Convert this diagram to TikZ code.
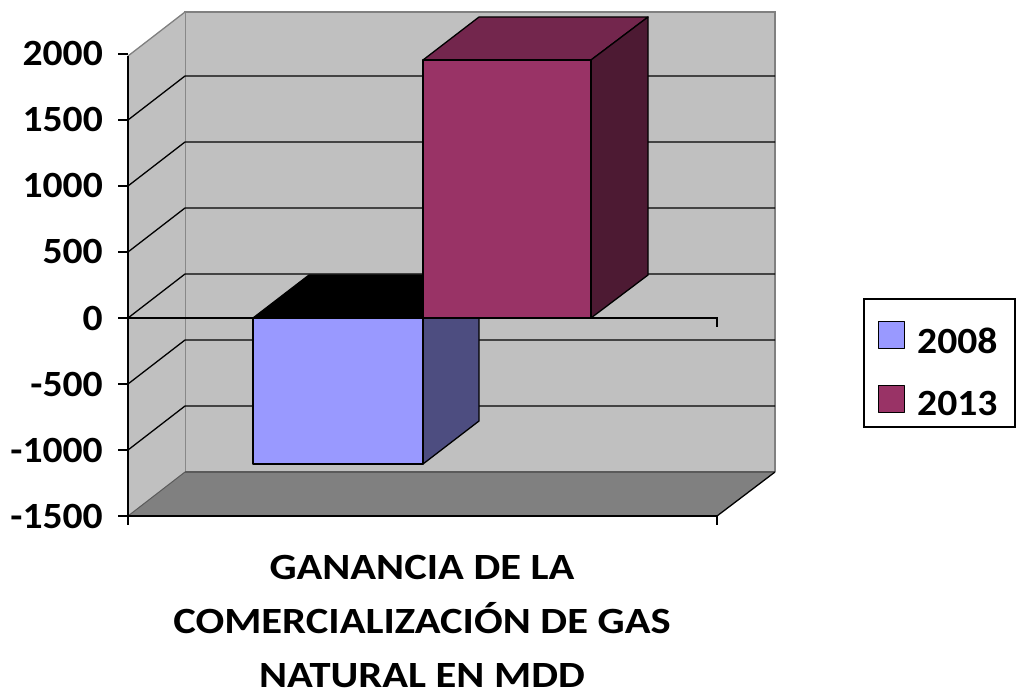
\documentclass[tikz,border=0pt]{standalone}
\usepackage{fontspec}
\usepackage{graphicx}
\setmainfont{Carlito}
\definecolor{wallc}{HTML}{C0C0C0}
\definecolor{floorc}{HTML}{808080}
\definecolor{edgec}{HTML}{808080}
\definecolor{baraf}{HTML}{9999FF}
\definecolor{baras}{HTML}{4D4D80}
\definecolor{barbf}{HTML}{993366}
\definecolor{barbt}{HTML}{73264D}
\definecolor{barbs}{HTML}{4D1A33}
\newcommand{\numtxt}[1]{\scalebox{1.07}[1]{#1}}
\newcommand{\ttltxt}[1]{\scalebox{1.15}[1]{#1}}
\tikzset{
  grid/.style={black, line width=1.3pt},
  axisl/.style={black, line width=1.3pt},
  face/.style={draw=black, line width=1.3pt, line join=round},
  lab/.style={font=\fontsize{37}{44}\bfseries\selectfont, inner sep=0pt, anchor=base east},
  legl/.style={font=\fontsize{37}{44}\bfseries\selectfont, inner sep=0pt, anchor=base west},
  ttl/.style={font=\fontsize{37}{44}\bfseries\selectfont, inner sep=0pt, anchor=base, text depth=0pt},
}
\begin{document}
\begin{tikzpicture}[x=1pt,y=-1pt]
\useasboundingbox (0,0) rectangle (1016,695);
% back wall
\fill[wallc] (185,12) rectangle (775,472);
\draw[edgec, line width=1.3pt] (185,472) -- (185,12) -- (775,12) -- (775,472);
% side wall
\fill[wallc] (128,56) -- (185,12) -- (185,472) -- (128,516) -- cycle;
\draw[edgec, line width=1.3pt] (128,56) -- (185,12);
% floor
\fill[floorc] (128,516) -- (717,516) -- (775,472) -- (185,472) -- cycle;
\draw[edgec!70!black, line width=1.3pt] (185,472) -- (775,472);
\draw[edgec!70!black, line width=1pt] (128,516) -- (185,472);
\draw[grid] (717,516) -- (775,472);
% gridlines
\foreach \v in {1500,1000,500,0,-500,-1000}{
  \pgfmathsetmacro{\yf}{318-0.132*\v}
  \pgfmathsetmacro{\yb}{\yf-44}
  \draw[grid] (128,\yf) -- (185,\yb) -- (775,\yb);
}
% category axis at zero
\coordinate (z0) at (128,318);
\coordinate (z1) at (717,318);
\coordinate (z2) at (717,327);
\draw[axisl] (z0) -- (z1) -- (z2);
% floor front edge
\coordinate (f0) at (128,516);
\coordinate (f1) at (717,516);
\coordinate (f2) at (717,525);
\draw[axisl] (f0) -- (f1) -- (f2);
% value axis
\coordinate (a0) at (128,56);
\coordinate (a1) at (128,525);
\draw[axisl] (a0) -- (a1);
\foreach \v/\t in {2000/2000,1500/1500,1000/1000,500/500,0/0,-500/-500,-1000/-1000,-1500/-1500}{
  \pgfmathsetmacro{\yf}{318-0.132*\v}
  \draw[axisl] (118,\yf) -- (128,\yf);
  \node[lab] (l\v) at (103,\yf+12) {\numtxt{\t}};
}
% bar 2008
\filldraw[face, fill=black] (253,318) -- (423,318) -- (479,275) -- (309,275) -- cycle;
\filldraw[face, fill=baras] (423,318) -- (479,275) -- (479,421) -- (423,464) -- cycle;
\filldraw[face, fill=baraf] (253,318) rectangle (423,464);
% bar 2013
\filldraw[face, fill=barbt] (423,60) -- (591,60) -- (648,17) -- (479,17) -- cycle;
\filldraw[face, fill=barbs] (591,60) -- (648,17) -- (648,275) -- (591,318) -- cycle;
\filldraw[face, fill=barbf] (423,60) rectangle (591,318);
% title
\node[ttl] (t1) at (422,579) {\ttltxt{GANANCIA DE LA}};
\node[ttl] (t2) at (422,633) {\ttltxt{COMERCIALIZACIÓN DE GAS}};
\node[ttl] (t3) at (422,687) {\ttltxt{NATURAL EN MDD}};
% legend
\draw[black, line width=1.3pt] (864,299) rectangle (1015,427);
\filldraw[face, line width=1pt, fill=baraf] (878,321) rectangle (904,348);
\filldraw[face, line width=1pt, fill=barbf] (878,385) rectangle (904,412);
\node[legl] (g1) at (917,353) {\numtxt{2008}};
\node[legl] (g2) at (917,415) {\numtxt{2013}};
\end{tikzpicture}
\end{document}
